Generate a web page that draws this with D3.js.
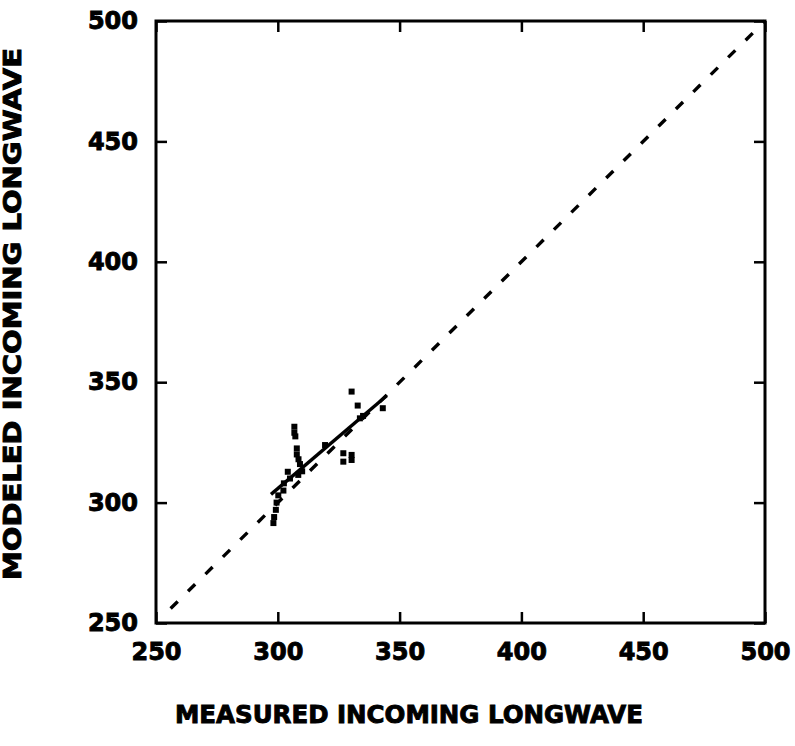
<!DOCTYPE html>
<html><head><meta charset="utf-8">
<script src="https://cdn.jsdelivr.net/npm/d3@7"></script>
<style>
html,body{margin:0;padding:0;background:#fff;}
svg{display:block;}
text{font-family:"DejaVu Sans",sans-serif;font-weight:bold;fill:#000;}
</style></head>
<body>
<svg id="chart" width="795" height="746"></svg>
<script>
// Data
const tickValues = [250, 300, 350, 400, 450, 500];
const measured = [298.2, 298.5, 299.2, 299.5, 300.2, 302.3, 302.5, 304.1, 305.0, 306.8, 306.8, 307.2, 307.8, 307.8, 308.5, 309.1, 308.4, 310.0, 319.4, 326.9, 330.3, 326.9, 330.3, 330.3, 332.8, 333.7, 335.0, 343.1];
const modeled  = [291.5, 294.0, 297.0, 300.0, 303.0, 305.0, 308.0, 312.8, 310.0, 331.5, 329.0, 327.5, 322.5, 320.0, 318.0, 316.0, 311.5, 313.0, 323.9, 320.5, 319.8, 317.0, 317.7, 346.1, 340.3, 335.0, 336.0, 339.2];
const fitX = [297.2, 344.7];
const fitY = [303.4, 344.4];
const oneToOne = [256, 500];
const xTitle = "MEASURED INCOMING LONGWAVE";
const yTitle = "MODELED INCOMING LONGWAVE";

const svg = d3.select("#chart");
const x = d3.scaleLinear().domain([250, 500]).range([156, 765]);
const y = d3.scaleLinear().domain([250, 500]).range([623, 21]);
const fs = 24;

function styleAxis(g){
  g.select(".domain").remove();
  g.selectAll(".tick line").attr("stroke","#000").attr("stroke-width",2.5);
  g.selectAll(".tick text").attr("font-size",fs).attr("font-family","DejaVu Sans").attr("font-weight","bold")
    .attr("fill","#000").attr("stroke","#000").attr("stroke-width",0.9);
}

svg.append("g").attr("transform",`translate(0,${y(250)})`)
  .call(d3.axisBottom(x).tickValues(tickValues).tickSize(-11).tickPadding(20).tickFormat(d3.format("d")))
  .call(styleAxis);
svg.append("g").attr("transform",`translate(${x(250)},0)`)
  .call(d3.axisLeft(y).tickValues(tickValues).tickSize(-11).tickPadding(18).tickFormat(d3.format("d")))
  .call(styleAxis);
svg.append("g").attr("transform",`translate(0,${y(500)})`)
  .call(d3.axisTop(x).tickValues(tickValues).tickSize(-11).tickFormat(""))
  .call(styleAxis);
svg.append("g").attr("transform",`translate(${x(500)},0)`)
  .call(d3.axisRight(y).tickValues(tickValues).tickSize(-11).tickFormat(""))
  .call(styleAxis);

// frame
svg.append("rect")
  .attr("x", x(250)).attr("y", y(500))
  .attr("width", x(500)-x(250)).attr("height", y(250)-y(500))
  .attr("fill","none").attr("stroke","#000").attr("stroke-width",3);

// 1:1 dashed line
const line = d3.line().x(d=>x(d[0])).y(d=>y(d[1]));
svg.append("path")
  .attr("d", line(oneToOne.map(v=>[v,v])))
  .attr("fill","none").attr("stroke","#000").attr("stroke-width",3.4)
  .attr("stroke-dasharray","10,14.5");

// regression line
svg.append("path")
  .attr("d", line(fitX.map((v,i)=>[v, fitY[i]])))
  .attr("fill","none").attr("stroke","#000").attr("stroke-width",3.4);

// points
svg.append("g").selectAll("rect").data(measured.map((v,i)=>[v, modeled[i]]))
  .join("rect")
  .attr("x", d=>x(d[0])-3).attr("y", d=>y(d[1])-3)
  .attr("width",6).attr("height",6).attr("fill","#000");

// titles
svg.append("text")
  .attr("x", 409).attr("y", 723).attr("text-anchor","middle")
  .attr("font-size", 24).attr("textLength", 468).attr("lengthAdjust","spacingAndGlyphs")
  .attr("stroke","#000").attr("stroke-width",0.9)
  .text(xTitle);
svg.append("text")
  .attr("transform","translate(21,314) rotate(-90)").attr("text-anchor","middle")
  .attr("font-size", 24).attr("textLength", 532).attr("lengthAdjust","spacingAndGlyphs")
  .attr("stroke","#000").attr("stroke-width",0.9)
  .text(yTitle);
</script>
</body></html>
